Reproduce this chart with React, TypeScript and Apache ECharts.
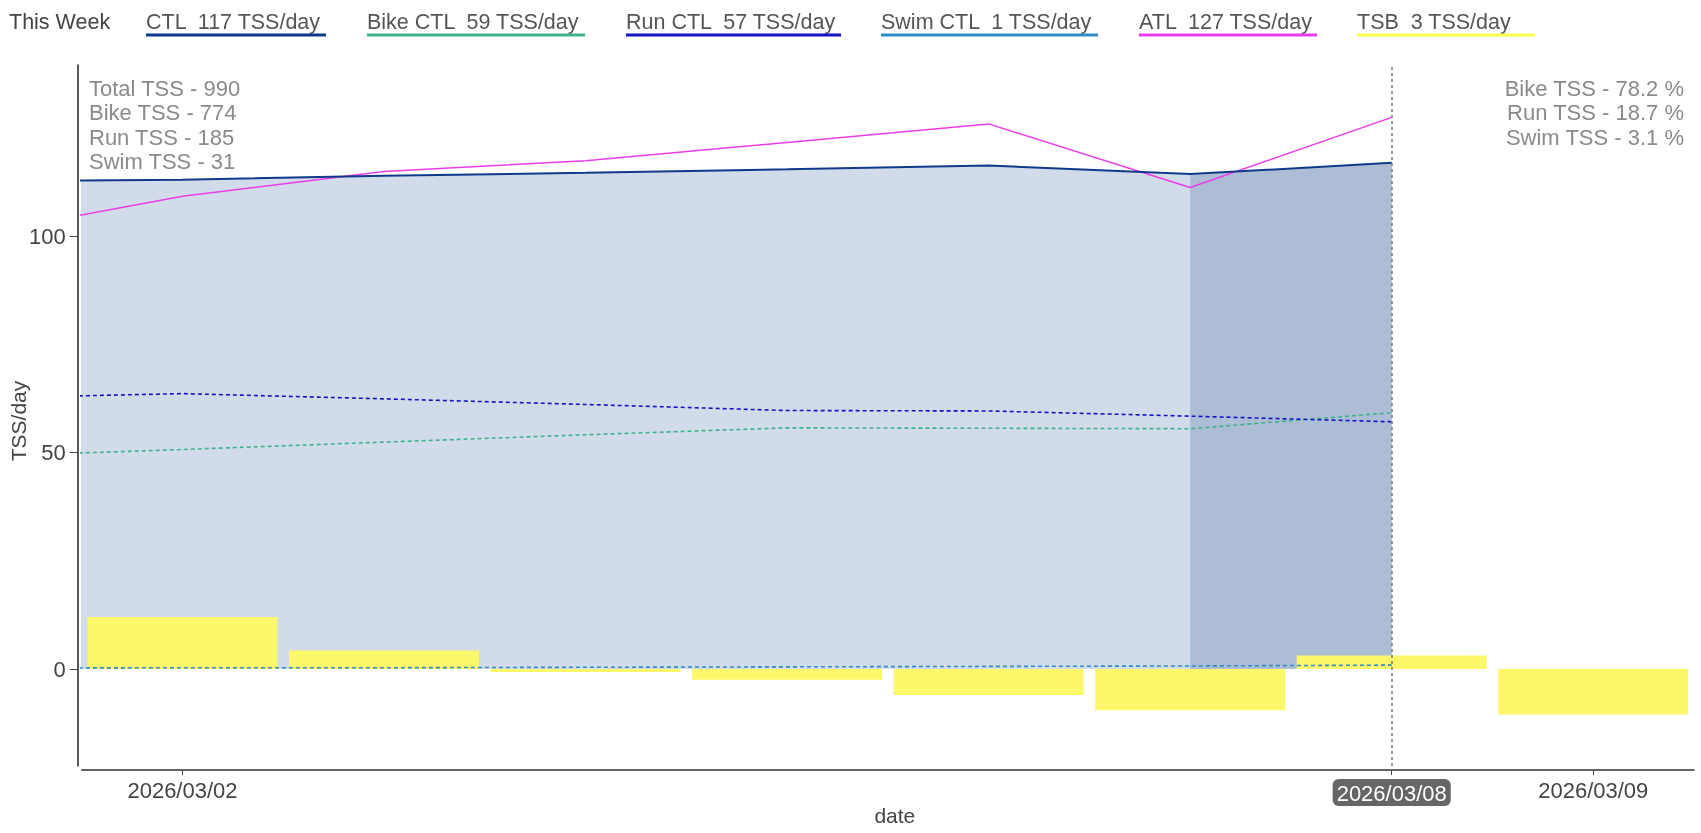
import React, { useEffect, useRef } from 'react';
import * as echarts from 'echarts';

// ---- data ----
const lineDates = ['2026-03-01', '2026-03-02', '2026-03-03', '2026-03-04', '2026-03-05', '2026-03-06', '2026-03-07', '2026-03-08'];
const ctl = [112.6, 113.0, 113.9, 114.6, 115.4, 116.3, 114.3, 116.9];
const bikeCtl = [49.1, 50.7, 52.4, 54.1, 55.7, 55.6, 55.5, 59.2];
const runCtl = [62.6, 63.6, 62.4, 61.1, 59.7, 59.6, 58.4, 57.1];
const swimCtl = [0.2, 0.3, 0.3, 0.4, 0.5, 0.6, 0.7, 0.9];
const atl = [100.5, 109.2, 114.9, 117.4, 121.6, 125.9, 111.2, 127.4];

const tsbDates = ['2026-03-02', '2026-03-03', '2026-03-04', '2026-03-05', '2026-03-06', '2026-03-07', '2026-03-08', '2026-03-09'];
const tsb = [12.0, 4.3, -0.7, -2.5, -6.0, -9.5, 3.1, -10.5];

const tssSports = ['Bike', 'Run', 'Swim'];
const tssValues = [774, 185, 31];

const xTickDates = ['2026-03-02', '2026-03-08', '2026-03-09'];
const yTicks = [0, 50, 100];
const today = '2026-03-08';
const shadeStart = '2026-03-07';
const xRange = ['2026-03-01T12:00:00Z', '2026-03-09T12:00:00Z'];
const yRange = [-22.4, 139.5];

// ---- helpers ----
const t = (s: string) => Date.parse(s);
const pad = (n: number) => (n < 10 ? '0' + n : '' + n);
const fmtDate = (v: number) => {
  const d = new Date(v);
  return `${d.getUTCFullYear()}/${pad(d.getUTCMonth() + 1)}/${pad(d.getUTCDate())}`;
};
const pairs = (dates: string[], vals: number[]) => dates.map((d, i) => [t(d), vals[i]]);

const FONT = '"Liberation Sans", Arial, Helvetica, sans-serif';

const colors = {
  ctl: '#0f3a8c',
  bike: '#3db48c',
  run: '#1515c6',
  swim: '#2e8cc6',
  atl: '#ec3cea',
  tsb: '#fdf86b',
  tsbLegend: '#ffff4a',
  areaLight: '#d1dbe9',
  areaDark: '#adbdd6',
};

export default function App() {
  const ref = useRef<HTMLDivElement>(null);

  useEffect(() => {
    document.body.style.margin = '0';
    const chart = echarts.init(ref.current!, null, { renderer: 'svg' });

    const todayIdx = lineDates.indexOf(today);
    const tsbTodayIdx = tsbDates.indexOf(today);
    const shadeIdx = lineDates.indexOf(shadeStart);

    const legendItems = [
      { name: 'CTL', value: ctl[todayIdx], color: colors.ctl },
      { name: 'Bike CTL', value: bikeCtl[todayIdx], color: colors.bike },
      { name: 'Run CTL', value: runCtl[todayIdx], color: colors.run },
      { name: 'Swim CTL', value: swimCtl[todayIdx], color: colors.swim },
      { name: 'ATL', value: atl[todayIdx], color: colors.atl },
      { name: 'TSB', value: tsb[tsbTodayIdx], color: colors.tsbLegend },
    ];
    const legendX = [146, 367, 626, 881, 1139, 1357];
    const legendW = [180, 218, 215, 217, 178, 178];

    const graphic: any[] = [
      {
        type: 'text',
        x: 9,
        y: 22,
        style: { text: 'This Week', fill: '#444', fontSize: 21.5, fontFamily: FONT, verticalAlign: 'middle', align: 'left' },
      },
    ];
    legendItems.forEach((it, i) => {
      graphic.push({
        type: 'text',
        x: legendX[i],
        y: 22,
        style: {
          text: `${it.name}  ${Math.round(it.value)} TSS/day`,
          fill: '#555',
          fontSize: 21.5,
          fontFamily: FONT,
          verticalAlign: 'middle',
          align: 'left',
        },
      });
      graphic.push({
        type: 'line',
        shape: { x1: legendX[i], y1: 35, x2: legendX[i] + legendW[i], y2: 35 },
        style: { stroke: it.color, lineWidth: 3 },
      });
    });

    const total = tssValues.reduce((a, b) => a + b, 0);
    const leftLines = [`Total TSS - ${total}`, ...tssSports.map((s, i) => `${s} TSS - ${tssValues[i]}`)];
    const rightLines = tssSports.map((s, i) => `${s} TSS - ${((tssValues[i] / total) * 100).toFixed(1)} %`);
    leftLines.forEach((txt, i) => {
      graphic.push({
        type: 'text',
        x: 89,
        y: 88.5 + i * 24.3,
        style: { text: txt, fill: '#8a8a8a', fontSize: 22, fontFamily: FONT, verticalAlign: 'middle', align: 'left' },
      });
    });
    rightLines.forEach((txt, i) => {
      graphic.push({
        type: 'text',
        x: 1684,
        y: 88.5 + i * 24.3,
        style: { text: txt, fill: '#8a8a8a', fontSize: 22, fontFamily: FONT, verticalAlign: 'middle', align: 'right' },
      });
    });

    const dashed = (name: string, vals: number[], color: string) => ({
      name,
      type: 'line',
      data: pairs(lineDates, vals),
      symbol: 'none',
      lineStyle: { color, width: 1.6, type: [4, 3] },
      silent: true,
      z: 4,
    });

    const option: any = {
      animation: false,
      textStyle: { fontFamily: FONT },
      grid: { left: 81.7, right: 7, top: 65, bottom: 67, containLabel: false, outerBoundsMode: 'none' },
      xAxis: {
        type: 'value',
        min: t(xRange[0]),
        max: t(xRange[1]),
        offset: 4,
        name: 'date',
        nameLocation: 'middle',
        nameGap: 35,
        nameMoveOverlap: false,
        nameTextStyle: { color: '#444', fontSize: 21, fontFamily: FONT, padding: [0, 0, 0, 14] },
        axisLine: { show: true, onZero: false, lineStyle: { color: '#333', width: 1.5 } },
        axisTick: { show: true, length: 5, lineStyle: { color: '#444' }, customValues: xTickDates.map(t) },
        axisLabel: {
          customValues: xTickDates.map(t),
          color: '#444',
          fontSize: 22,
          fontFamily: FONT,
          margin: 9,
          formatter: (v: number) => {
            const s = fmtDate(v);
            return v === t(today) ? `{hl|${s}}` : s;
          },
          rich: {
            hl: {
              color: '#fff',
              backgroundColor: '#666',
              borderRadius: 6,
              padding: [3, 4, 2, 4],
              fontSize: 22,
              fontFamily: FONT,
            },
          },
        },
        splitLine: { show: false },
      },
      yAxis: {
        type: 'value',
        min: yRange[0],
        max: yRange[1],
        offset: 4,
        name: 'TSS/day',
        nameLocation: 'middle',
        nameGap: 49,
        nameMoveOverlap: false,
        nameTextStyle: { color: '#444', fontSize: 21, fontFamily: FONT, padding: [0, 11, 0, 0] },
        axisLine: { show: true, onZero: false, lineStyle: { color: '#222', width: 1.5 } },
        axisTick: { show: true, length: 8, lineStyle: { color: '#444' }, customValues: yTicks },
        axisLabel: { customValues: yTicks, color: '#444', fontSize: 22, fontFamily: FONT, margin: 12 },
        splitLine: { show: false },
      },
      graphic,
      series: [
        {
          name: 'CTL area',
          type: 'line',
          data: pairs(lineDates, ctl),
          symbol: 'none',
          lineStyle: { width: 0 },
          areaStyle: { color: colors.areaLight, opacity: 1 },
          silent: true,
          z: 1,
        },
        {
          name: 'CTL area today',
          type: 'line',
          data: pairs(lineDates.slice(shadeIdx, todayIdx + 1), ctl.slice(shadeIdx, todayIdx + 1)),
          symbol: 'none',
          lineStyle: { width: 0 },
          areaStyle: { color: colors.areaDark, opacity: 1 },
          silent: true,
          z: 1,
        },
        {
          name: 'TSB',
          type: 'bar',
          data: pairs(tsbDates, tsb),
          barWidth: 190,
          itemStyle: { color: colors.tsb },
          silent: true,
          z: 2,
          markLine: {
            silent: true,
            symbol: ['none', 'none'],
            label: { show: false },
            lineStyle: { color: '#777', type: [3, 3], width: 1.5 },
            data: [{ xAxis: t(today) }],
          },
        },
        dashed('Swim CTL', swimCtl, colors.swim),
        dashed('Bike CTL', bikeCtl, colors.bike),
        dashed('Run CTL', runCtl, colors.run),
        {
          name: 'ATL',
          type: 'line',
          data: pairs(lineDates, atl),
          symbol: 'none',
          lineStyle: { color: colors.atl, width: 1.5 },
          silent: true,
          z: 5,
        },
        {
          name: 'CTL',
          type: 'line',
          data: pairs(lineDates, ctl),
          symbol: 'none',
          lineStyle: { color: colors.ctl, width: 2 },
          silent: true,
          z: 6,
        },
      ],
    };

    chart.setOption(option);
    return () => chart.dispose();
  }, []);

  return <div ref={ref} style={{ position: 'fixed', left: 0, top: 0, width: 1701, height: 833 }} />;
}
